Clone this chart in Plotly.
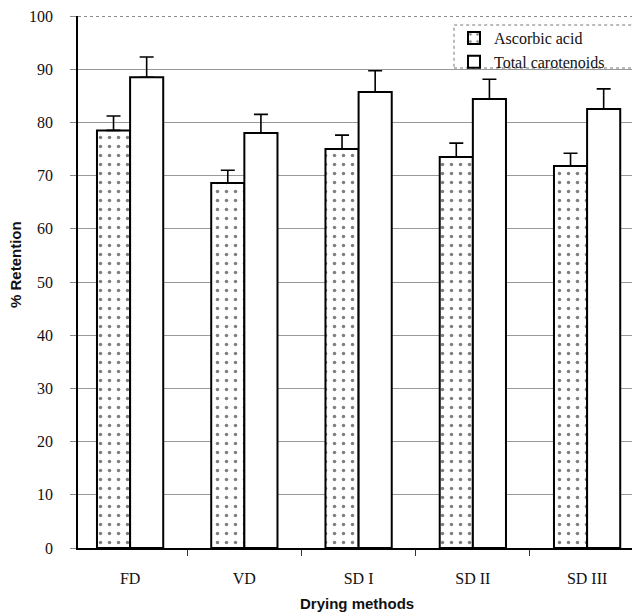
import plotly.graph_objects as go

methods = ["FD", "VD", "SD I", "SD II", "SD III"]
ascorbic = [78.5, 68.6, 75.0, 73.5, 71.8]
ascorbic_err = [2.7, 2.4, 2.6, 2.6, 2.4]
carotenoids = [88.5, 78.0, 85.7, 84.4, 82.5]
carotenoids_err = [3.8, 3.5, 4.0, 3.7, 3.8]
y_ticks = [0, 10, 20, 30, 40, 50, 60, 70, 80, 90, 100]

serif = "Liberation Serif"
sans = "Liberation Sans"

# page body has an 8px margin; figure is sized/offset to compensate
OFF = 8
W, H = 640 - OFF, 616 - OFF
PL, PT, PB = 78, 16, 548          # plot edges in window pixels
PW = 640 - PL
PH = PB - PT

def px(xw):
    return (xw - PL) / PW

def py(yw):
    return (PB - yw) / PH

fig = go.Figure()
fig.add_trace(go.Bar(
    name="Ascorbic acid", x=methods, y=ascorbic,
    marker=dict(color="white", line=dict(color="black", width=2),
                pattern=dict(shape=".", fgcolor="black", bgcolor="white",
                             size=9, solidity=0.12)),
    error_y=dict(type="data", array=ascorbic_err, arrayminus=[0]*len(methods),
                 symmetric=False, color="black", thickness=1.6, width=7),
))
fig.add_trace(go.Bar(
    name="Total carotenoids", x=methods, y=carotenoids,
    marker=dict(color="white", line=dict(color="black", width=2)),
    error_y=dict(type="data", array=carotenoids_err, arrayminus=[0]*len(methods),
                 symmetric=False, color="black", thickness=1.6, width=7),
))

fig.update_layout(
    width=W, height=H,
    margin=dict(l=PL - OFF, r=0, t=PT - OFF, b=H - (PB - OFF)),
    paper_bgcolor="white", plot_bgcolor="white",
    barmode="group", bargap=0.42, bargroupgap=0,
    showlegend=True,
    legend=dict(x=px(454), y=py(21), xanchor="left", yanchor="top",
                bgcolor="rgba(0,0,0,0)", borderwidth=0,
                font=dict(family=serif, size=16, color="#111"),
                itemwidth=30, tracegroupgap=0),
    xaxis=dict(type="category", range=[-0.456, 4.463],
               showline=True, linecolor="black", linewidth=2,
               ticks="outside", tickson="boundaries", ticklen=6,
               tickcolor="#333", showgrid=False,
               tickfont=dict(family=serif, size=16, color="#111"),
               ticklabelstandoff=15),
    yaxis=dict(range=[0, 100], tickvals=y_ticks,
               showline=True, linecolor="black", linewidth=1.5,
               ticks="outside", ticklen=6, tickcolor="#888",
               showgrid=True, gridcolor="#999999", gridwidth=1,
               zeroline=False, ticklabeloverflow="allow",
               tickfont=dict(family=serif, size=16, color="#111"),
               ticklabelstandoff=14),
    annotations=[
        dict(text="<b>Drying methods</b>", xref="paper", yref="paper",
             x=px(357), y=py(604), xanchor="center", yanchor="middle",
             showarrow=False, font=dict(family=sans, size=15, color="#111")),
        dict(text="<b>% Retention</b>", xref="paper", yref="paper",
             x=px(15), y=py(265), xanchor="center", yanchor="middle",
             textangle=-90, showarrow=False,
             font=dict(family=sans, size=15, color="#111")),
    ],
    shapes=[
        dict(type="line", xref="paper", yref="y", x0=0, x1=1, y0=100, y1=100,
             line=dict(color="#666", width=1.5, dash="dot")),
        dict(type="rect", xref="paper", yref="paper",
             x0=px(454), x1=1.05, y0=py(68), y1=py(25),
             line=dict(color="#777", width=1, dash="dot"),
             fillcolor="rgba(0,0,0,0)"),
    ],
)

fig.write_html("out.html")
